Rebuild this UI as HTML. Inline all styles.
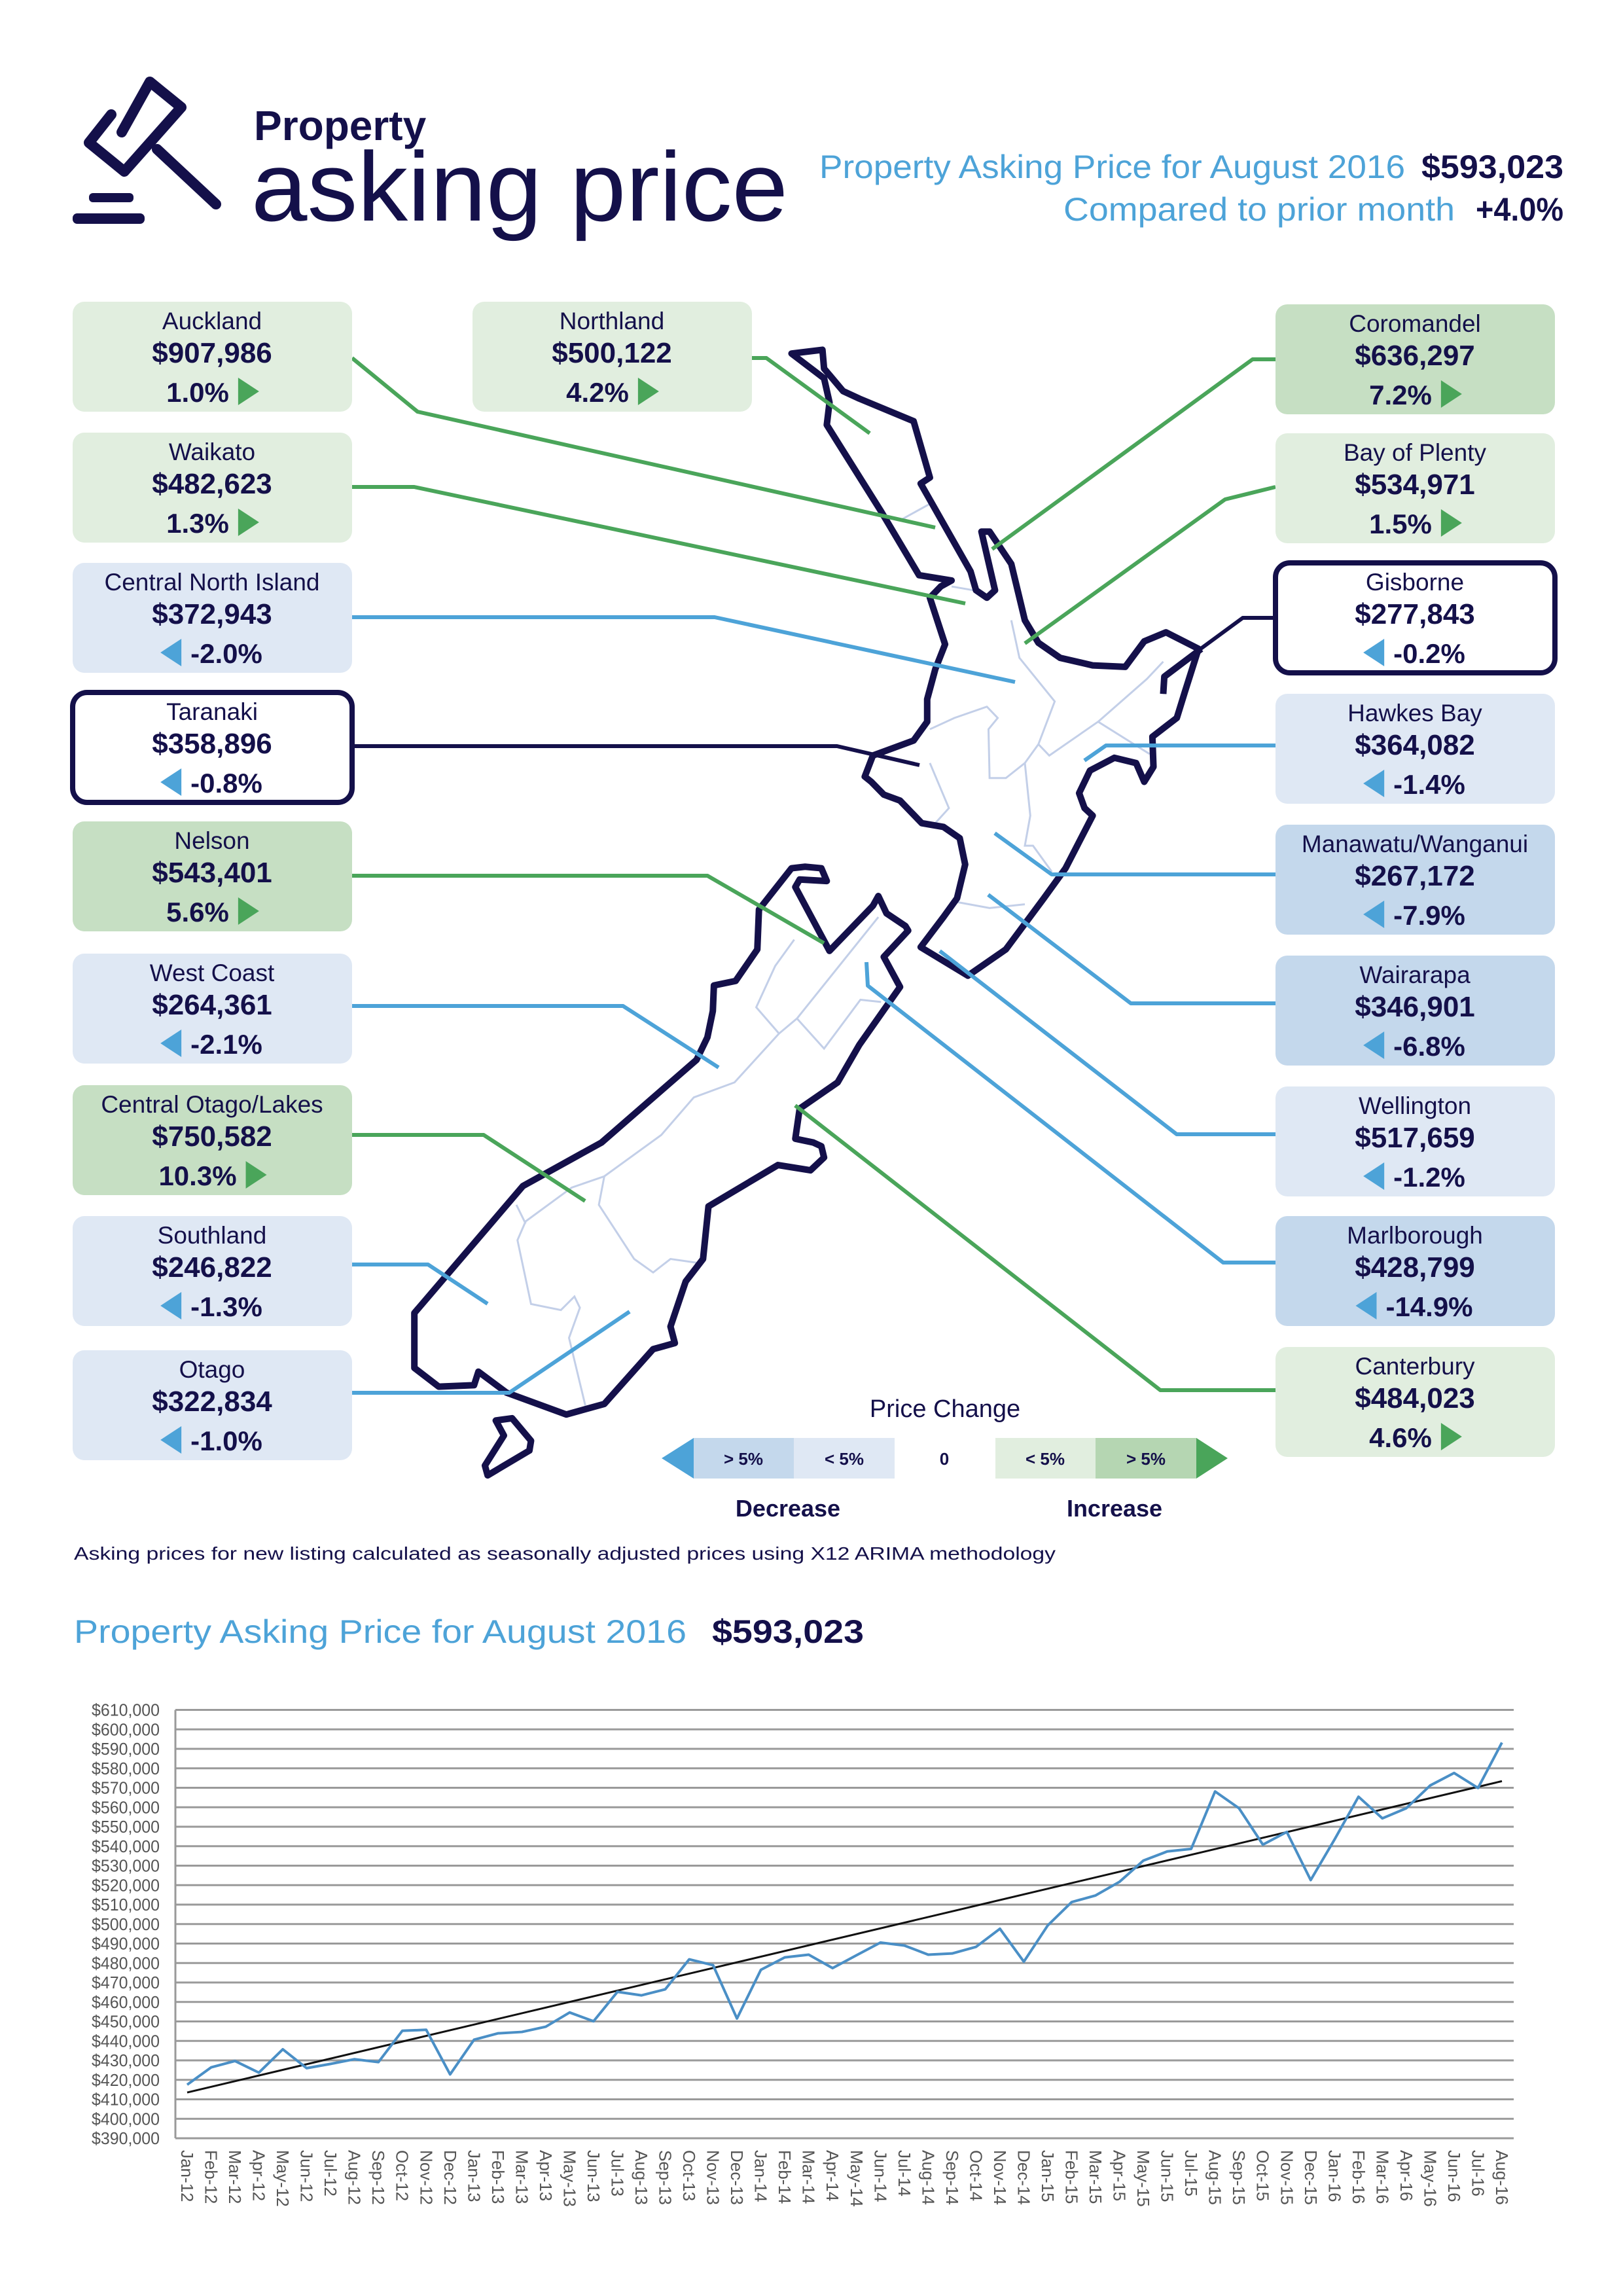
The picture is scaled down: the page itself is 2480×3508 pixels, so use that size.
<!DOCTYPE html>
<html><head><meta charset="utf-8"><style>
html,body{margin:0;padding:0;background:#fff}
svg{display:block}
text{font-family:"Liberation Sans",sans-serif}
</style></head><body>
<svg id="root" width="2480" height="3508" viewBox="0 0 2480 3508" xmlns="http://www.w3.org/2000/svg">
<rect width="2480" height="3508" fill="#fff"/>
<!-- header -->
<g fill="none" stroke="#14104a" stroke-width="16" stroke-linejoin="round" stroke-linecap="round">
  <path d="M186,202 L229,125 L277,164 L190,262 L136,218 L170,175"/>
  <line x1="240" y1="228" x2="330" y2="312"/>
  <rect x="136" y="295" width="68" height="14" rx="6" fill="#14104a" stroke="none"/>
  <rect x="111" y="326" width="110" height="16" rx="7" fill="#14104a" stroke="none"/>
</g>
<text x="388" y="214" font-size="64" font-weight="bold" fill="#14104a">Property</text>
<text x="384" y="337" font-size="150" fill="#14104a" textLength="820" lengthAdjust="spacingAndGlyphs">asking price</text>
<text y="272" font-size="50"><tspan x="1252" fill="#4da3d8" textLength="895" lengthAdjust="spacingAndGlyphs">Property Asking Price for August 2016</tspan><tspan x="2172" fill="#14104a" font-weight="bold" textLength="217" lengthAdjust="spacingAndGlyphs">$593,023</tspan></text>
<text y="337" font-size="50"><tspan x="1625" fill="#4da3d8" textLength="598" lengthAdjust="spacingAndGlyphs">Compared to prior month</tspan><tspan x="2255" fill="#14104a" font-weight="bold" textLength="134" lengthAdjust="spacingAndGlyphs">+4.0%</tspan></text>

<!-- map -->
<g id="map" transform="translate(600,500) scale(0.8292,1.148)">
  <g fill="none" stroke="#c3cfe8" stroke-width="3">
    <polyline vector-effect="non-scaling-stroke" points="940,255 990,235"/>
    <polyline vector-effect="non-scaling-stroke" points="1030,345 1070,350"/>
    <polyline vector-effect="non-scaling-stroke" points="1140,390 1155,440 1220,498 1190,555 1210,570 1300,525 1395,568"/>
    <polyline vector-effect="non-scaling-stroke" points="1420,445 1390,468 1300,525"/>
    <polyline vector-effect="non-scaling-stroke" points="1165,580 1175,650 1165,690 1180,690 1215,725"/>
    <polyline vector-effect="non-scaling-stroke" points="990,535 1035,520 1095,505 1115,520 1098,535 1100,600 1130,600 1165,580 1190,555"/>
    <polyline vector-effect="non-scaling-stroke" points="990,580 1025,640 1000,660"/>
    <polyline vector-effect="non-scaling-stroke" points="1040,765 1100,773 1165,768"/>
    <polyline vector-effect="non-scaling-stroke" points="740,815 705,850 670,905 712,940 630,1005 555,1025 495,1075 390,1130 330,1145 245,1190 230,1215 255,1300 310,1308 335,1290 345,1305 325,1345 355,1435"/>
    <polyline vector-effect="non-scaling-stroke" points="390,1130 380,1168 445,1240 480,1258 512,1240 560,1245"/>
    <polyline vector-effect="non-scaling-stroke" points="745,920 795,960 862,895 900,898"/>
    <polyline vector-effect="non-scaling-stroke" points="712,940 745,920 895,785"/>
    <polyline vector-effect="non-scaling-stroke" points="228,1168 245,1193"/>
  </g>
  <g fill="none" stroke="#14104a" stroke-width="10" stroke-linejoin="round">
    <polygon vector-effect="non-scaling-stroke" points="735,35 792,30 795,55 830,85 860,95 960,125 990,200 973,208 1065,325 1075,350 1095,360 1110,350 1085,272 1100,272 1140,315 1165,390 1190,420 1230,440 1290,450 1350,452 1385,418 1425,406 1485,428 1460,485 1445,520 1400,545 1402,585 1385,605 1370,580 1330,573 1285,590 1265,620 1275,640 1290,650 1240,720 1200,760 1130,828 1060,863 973,825 1015,785 1040,760 1055,715 1045,680 1015,665 975,660 935,630 905,622 882,605 870,598 885,570 960,550 985,525 985,495 1000,455 1018,422 990,360 1010,345 1030,337 970,330 900,245 800,130 805,100 795,68"/>
    <polyline vector-effect="non-scaling-stroke" points="1420,488 1422,465 1490,428"/>
    <polygon vector-effect="non-scaling-stroke" points="800,737 790,720 760,718 735,720 675,775 672,828 632,870 592,876 590,910 580,945 560,975 385,1085 240,1143 40,1312 40,1385 85,1410 150,1408 158,1390 210,1418 320,1447 390,1433 480,1360 520,1352 512,1330 540,1270 572,1240 582,1170 710,1115 770,1122 795,1105 790,1090 775,1085 742,1080 750,1040 820,1005 860,955 935,878 905,838 950,803 945,797 910,780 895,757 885,770 805,830 742,745 750,735"/>
    <polygon vector-effect="non-scaling-stroke" points="190,1455 220,1452 255,1482 252,1495 175,1528 170,1515 205,1475"/>
  </g>
</g>
<g id="leaders" fill="none" stroke-width="6" stroke-linejoin="round"></g>
<g id="boxes"></g>

<!-- legend -->
<g>
  <text x="1444" y="2165" font-size="38" fill="#14104a" text-anchor="middle">Price Change</text>
  <polygon points="1060,2197 1060,2259 1011,2228" fill="#4da3d8"/>
  <rect x="1060" y="2197" width="153" height="62" fill="#c4d8ec"/>
  <rect x="1213" y="2197" width="154" height="62" fill="#dfe8f4"/>
  <rect x="1521" y="2197" width="153" height="62" fill="#e1eedf"/>
  <rect x="1674" y="2197" width="154" height="62" fill="#b5d6b2"/>
  <polygon points="1828,2197 1828,2259 1876,2228" fill="#4aa55a"/>
  <g font-size="26" font-weight="bold" fill="#14104a" text-anchor="middle">
    <text x="1136" y="2238">&gt; 5%</text><text x="1290" y="2238">&lt; 5%</text>
    <text x="1443" y="2238">0</text>
    <text x="1597" y="2238">&lt; 5%</text><text x="1751" y="2238">&gt; 5%</text>
  </g>
  <text x="1204" y="2317" font-size="36" font-weight="bold" fill="#14104a" text-anchor="middle">Decrease</text>
  <text x="1703" y="2317" font-size="36" font-weight="bold" fill="#14104a" text-anchor="middle">Increase</text>
</g>
<text x="113" y="2383" font-size="28" fill="#14104a" textLength="1500" lengthAdjust="spacingAndGlyphs">Asking prices for new listing calculated as seasonally adjusted prices using X12 ARIMA methodology</text>

<text y="2510" font-size="50"><tspan x="113" fill="#4da3d8" textLength="936" lengthAdjust="spacingAndGlyphs">Property Asking Price for August 2016</tspan><tspan x="1088" fill="#14104a" font-weight="bold" textLength="232" lengthAdjust="spacingAndGlyphs">$593,023</tspan></text>
<g id="chart"></g>
</svg>
<script>
// ---- chart data ----
const months = ["Jan-12","Feb-12","Mar-12","Apr-12","May-12","Jun-12","Jul-12","Aug-12","Sep-12","Oct-12","Nov-12","Dec-12",
"Jan-13","Feb-13","Mar-13","Apr-13","May-13","Jun-13","Jul-13","Aug-13","Sep-13","Oct-13","Nov-13","Dec-13",
"Jan-14","Feb-14","Mar-14","Apr-14","May-14","Jun-14","Jul-14","Aug-14","Sep-14","Oct-14","Nov-14","Dec-14",
"Jan-15","Feb-15","Mar-15","Apr-15","May-15","Jun-15","Jul-15","Aug-15","Sep-15","Oct-15","Nov-15","Dec-15",
"Jan-16","Feb-16","Mar-16","Apr-16","May-16","Jun-16","Jul-16","Aug-16"];
const askingPrice = [417.5,426.4,429.7,423.7,435.7,426,428.2,430.6,429.1,445.2,445.7,422.8,
440.6,443.9,444.6,447.3,454.6,450.1,465.2,463.4,466.5,481.9,478.9,451.5,
476.5,482.9,484.3,477.4,484,490.5,489,484.3,484.9,488.3,497.6,480.7,
499.3,511.3,514.7,521.7,532.6,537.3,538.6,568.1,559.5,540.8,547.3,522.6,
543.5,565.4,554.3,559.5,571.2,577.6,569.9,593.2];
const trendStart = 413.5;
const trendEnd = 573.4;
const yTicks = [390,400,410,420,430,440,450,460,470,480,490,500,510,520,530,540,550,560,570,580,590,600,610];

const NS="http://www.w3.org/2000/svg";
function mk(tag,attrs,parent){const e=document.createElementNS(NS,tag);for(const k in attrs)e.setAttribute(k,attrs[k]);parent.appendChild(e);return e;}
const chart=document.getElementById('chart');
const X0=268,X1=2313,Y0=3267,Y1=2612.5,PX0=286,PX1=2295,YMIN=390,YMAX=610;
const xs=i=>PX0+(PX1-PX0)*i/(months.length-1);
const ys=v=>Y0-(v-YMIN)/(YMAX-YMIN)*(Y0-Y1);
yTicks.forEach(t=>{
  const l=mk('line',{x1:X0,x2:X1,y1:ys(t),y2:ys(t),stroke:'#9a9a9a','stroke-width':3},chart);
  
  
  const tx=mk('text',{x:244,y:ys(t)+9,'font-size':26,fill:'#555','text-anchor':'end',textLength:104,lengthAdjust:'spacingAndGlyphs'},chart);
  tx.textContent='$'+t+',000';
  
  
});
const ax=mk('line',{x1:X0,x2:X0,y1:Y1,y2:Y0,stroke:'#9a9a9a','stroke-width':3},chart);


months.forEach((m,i)=>{
  const tx=mk('text',{x:0,y:0,'font-size':26,fill:'#555',transform:`translate(${xs(i)-9},3285) rotate(90)`},chart);
  tx.textContent=m;
  
  
});
const tl=mk('line',{x1:xs(0),y1:ys(trendStart),x2:xs(months.length-1),y2:ys(trendEnd),stroke:'#111','stroke-width':3},chart);


const pl=mk('polyline',{points:askingPrice.map((v,i)=>xs(i)+','+ys(v)).join(' '),fill:'none',stroke:'#4a8fc6','stroke-width':4,'stroke-linejoin':'round'},chart);



// ---- region boxes ----
const G1='#e1eedf',G2='#c6dfc3',B1='#dfe8f4',B2='#c4d8ec',W='#fff';
const regions=[
 ['Auckland','$907,986','1.0%',1,111,461,G1],
 ['Waikato','$482,623','1.3%',1,111,661,G1],
 ['Central North Island','$372,943','-2.0%',-1,111,860,B1],
 ['Taranaki','$358,896','-0.8%',-1,111,1058,W],
 ['Nelson','$543,401','5.6%',1,111,1255,G2],
 ['West Coast','$264,361','-2.1%',-1,111,1457,B1],
 ['Central Otago/Lakes','$750,582','10.3%',1,111,1658,G2],
 ['Southland','$246,822','-1.3%',-1,111,1858,B1],
 ['Otago','$322,834','-1.0%',-1,111,2063,B1],
 ['Northland','$500,122','4.2%',1,722,461,G1],
 ['Coromandel','$636,297','7.2%',1,1949,465,G2],
 ['Bay of Plenty','$534,971','1.5%',1,1949,662,G1],
 ['Gisborne','$277,843','-0.2%',-1,1949,860,W],
 ['Hawkes Bay','$364,082','-1.4%',-1,1949,1060,B1],
 ['Manawatu/Wanganui','$267,172','-7.9%',-1,1949,1260,B2],
 ['Wairarapa','$346,901','-6.8%',-1,1949,1460,B2],
 ['Wellington','$517,659','-1.2%',-1,1949,1660,B1],
 ['Marlborough','$428,799','-14.9%',-1,1949,1858,B2],
 ['Canterbury','$484,023','4.6%',1,1949,2058,G1]];
const leaders=[
 ['538,547 638,629 1429,806','#4aa55a'],['538,744 633,744 1475,922','#4aa55a'],['538,943 1092,943 1551,1042','#4da3d8'],
 ['538,1140 1279,1140 1405,1169','#14104a'],['538,1338 1081,1338 1259,1441','#4aa55a'],['538,1537 952,1537 1098,1631','#4da3d8'],
 ['538,1734 739,1734 894,1835','#4aa55a'],['538,1932 654,1932 745,1992','#4da3d8'],['538,2128 778,2128 962,2004','#4da3d8'],
 ['1149,547 1171,547 1329,662','#4aa55a'],['1949,549 1914,549 1516,839','#4aa55a'],['1949,744 1872,763 1566,983','#4aa55a'],
 ['1949,944 1899,944 1835,991','#14104a'],['1949,1139 1690,1139 1657,1162','#4da3d8'],['1949,1336 1607,1336 1520,1273','#4da3d8'],
 ['1949,1533 1728,1533 1510,1367','#4da3d8'],['1949,1733 1798,1733 1436,1453','#4da3d8'],['1949,1929 1869,1929 1326,1506 1324,1470','#4da3d8'],
 ['1949,2124 1773,2124 1215,1689','#4aa55a']];
const lg=document.getElementById('leaders');
leaders.forEach(l=>{
  const p=mk('polyline',{points:l[0],stroke:l[1]},lg);
  
  
});
const bg=document.getElementById('boxes');
regions.forEach(r=>{
  const [name,price,pct,dir,x,y,fill]=r;
  const g=mk('g',{},bg);
  
  
  const bordered=fill===W;
  mk('rect',{x:x,y:y,width:427,height:168,rx:bordered?22:18,fill:fill,stroke:bordered?'#14104a':'none','stroke-width':bordered?8:0},g);
  const cx=x+213;
  const t1=mk('text',{x:cx,y:y+42,'font-size':37,fill:'#14104a','text-anchor':'middle'},g);t1.textContent=name;
  const t2=mk('text',{x:cx,y:y+93,'font-size':44,'font-weight':'bold',fill:'#14104a','text-anchor':'middle'},g);t2.textContent=price;
  const t3=mk('text',{x:cx,y:y+153,'font-size':42,'font-weight':'bold',fill:'#14104a','text-anchor':'middle'},g);t3.textContent=pct;
  const w=t3.getComputedTextLength();
  const shift=22;
  if(dir>0){
    t3.setAttribute('x',cx-shift);
    const ax0=cx-shift+w/2+14;
    mk('polygon',{points:`${ax0},${y+116} ${ax0},${y+158} ${ax0+32},${y+137}`,fill:'#4aa55a'},g);
  }else{
    t3.setAttribute('x',cx+shift);
    const ax0=cx+shift-w/2-14;
    mk('polygon',{points:`${ax0},${y+116} ${ax0},${y+158} ${ax0-32},${y+137}`,fill:'#4da3d8'},g);
  }
});
</script>
</body></html>
